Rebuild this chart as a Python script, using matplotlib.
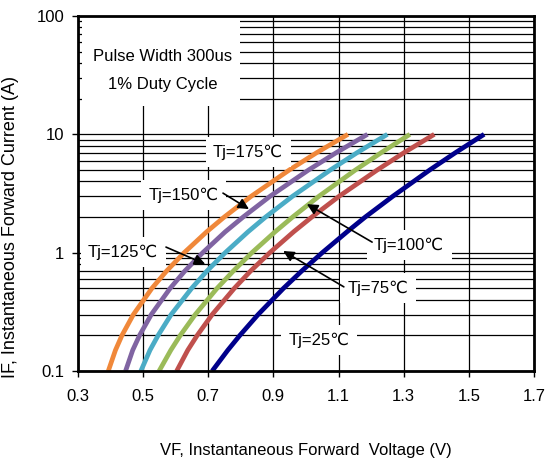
import matplotlib
matplotlib.use("Agg")
import matplotlib.pyplot as plt
from matplotlib.patches import Rectangle
from matplotlib.ticker import LogLocator, NullFormatter

plt.rcParams['font.family'] = ['Liberation Sans', 'DejaVu Sans']

# forward current points (A) shared by all curves
current = [0.1, 0.15, 0.2, 0.3, 0.5, 0.7, 1, 1.5, 2, 3, 5, 7, 10]

# forward voltage (V) for each junction temperature
vf_175 = [0.393, 0.415, 0.435, 0.470, 0.527, 0.572, 0.626, 0.695, 0.749, 0.832, 0.949, 1.033, 1.129]
vf_150 = [0.446, 0.468, 0.489, 0.525, 0.583, 0.628, 0.683, 0.752, 0.807, 0.890, 1.008, 1.093, 1.189]
vf_125 = [0.493, 0.521, 0.546, 0.586, 0.649, 0.696, 0.752, 0.822, 0.876, 0.959, 1.075, 1.157, 1.250]
vf_100 = [0.549, 0.585, 0.614, 0.660, 0.727, 0.777, 0.834, 0.905, 0.959, 1.040, 1.152, 1.231, 1.319]
vf_75 = [0.603, 0.637, 0.666, 0.712, 0.780, 0.830, 0.889, 0.962, 1.018, 1.102, 1.219, 1.301, 1.394]
vf_25 = [0.712, 0.760, 0.797, 0.853, 0.931, 0.987, 1.050, 1.126, 1.182, 1.267, 1.380, 1.459, 1.547]

series = [vf_175, vf_150, vf_125, vf_100, vf_75, vf_25]
colors = ['#F0883A', '#8064A2', '#4BACC6', '#9BBB59', '#C0504D', '#00008B']

x_ticks = [0.3, 0.5, 0.7, 0.9, 1.1, 1.3, 1.5, 1.7]
y_ticks = [0.1, 1, 10, 100]
y_labels = ['0.1', '1', '10', '100']

fig = plt.figure(figsize=(5.47, 4.62), dpi=100)
ax = fig.add_axes([0.1426, 0.197, 0.8336, 0.7684])

for v, c in zip(series, colors):
    ax.plot(v, current, color=c, lw=3.4, solid_capstyle='butt', solid_joinstyle='round', zorder=3)

ax.set_yscale('log')
ax.set_xlim(0.3, 1.7)
ax.set_ylim(0.1, 100)
ax.set_xticks(x_ticks)
ax.set_xticklabels([f'{t:.1f}' for t in x_ticks])
ax.set_yticks(y_ticks)
ax.set_yticklabels(y_labels)
ax.yaxis.set_minor_locator(LogLocator(base=10, subs=range(2, 10)))
ax.yaxis.set_minor_formatter(NullFormatter())
ax.tick_params(axis='both', which='major', labelsize=12, length=4, width=1, direction='out')
ax.tick_params(axis='x', pad=9)
ax.tick_params(axis='y', pad=6)
ax.tick_params(axis='y', which='minor', length=0)

ax.grid(True, which='major', axis='x', color='black', lw=0.9)
ax.grid(True, which='both', axis='y', color='black', lw=0.9)
ax.set_axisbelow(True)
for s in ax.spines.values():
    s.set_linewidth(2.0)
    s.set_zorder(5)

ax.set_xlabel('VF, Instantaneous Forward  Voltage (V)', fontsize=12)
ax.set_ylabel('IF, Instantaneous Forward Current (A)', fontsize=13)
ax.xaxis.set_label_coords(0.5, -0.203)
ax.yaxis.set_label_coords(-0.13, 0.405)

# white note box in the upper left corner
ax.add_patch(Rectangle((0.009, 0.746), 0.346, 0.25, transform=ax.transAxes,
                       facecolor='white', edgecolor='none', zorder=2))
ax.text(0.186, 0.887, 'Pulse Width 300us', transform=ax.transAxes, fontsize=12,
        ha='center', va='center', zorder=4)
ax.text(0.186, 0.806, '1% Duty Cycle', transform=ax.transAxes, fontsize=12,
        ha='center', va='center', zorder=4)

box = dict(boxstyle='square,pad=0.45', facecolor='white', edgecolor='none')
arrow = dict(arrowstyle='-|>', color='black', lw=1.2, mutation_scale=16, shrinkA=0, shrinkB=0)

ax.text(0.373, 0.617, 'Tj=175℃', transform=ax.transAxes, fontsize=12,
        ha='center', va='center', bbox=box, zorder=4)
ax.text(0.529, 0.087, 'Tj=25℃', transform=ax.transAxes, fontsize=12,
        ha='center', va='center', bbox=box, zorder=4)

labels = [
    ('Tj=150℃', (0.232, 0.496), (0.318, 0.501), (0.375, 0.456)),
    ('Tj=125℃', (0.099, 0.335), (0.193, 0.349), (0.279, 0.301)),
    ('Tj=100℃', (0.726, 0.355), (0.645, 0.363), (0.502, 0.470)),
    ('Tj=75℃', (0.658, 0.234), (0.583, 0.237), (0.450, 0.338)),
]
for txt, pos, tail, head in labels:
    ax.text(pos[0], pos[1], txt, transform=ax.transAxes, fontsize=12,
            ha='center', va='center', bbox=box, zorder=4)
    ax.annotate('', xy=head, xycoords='axes fraction', xytext=tail,
                textcoords='axes fraction', arrowprops=arrow, zorder=4)

fig.savefig('out.png', dpi=100)
